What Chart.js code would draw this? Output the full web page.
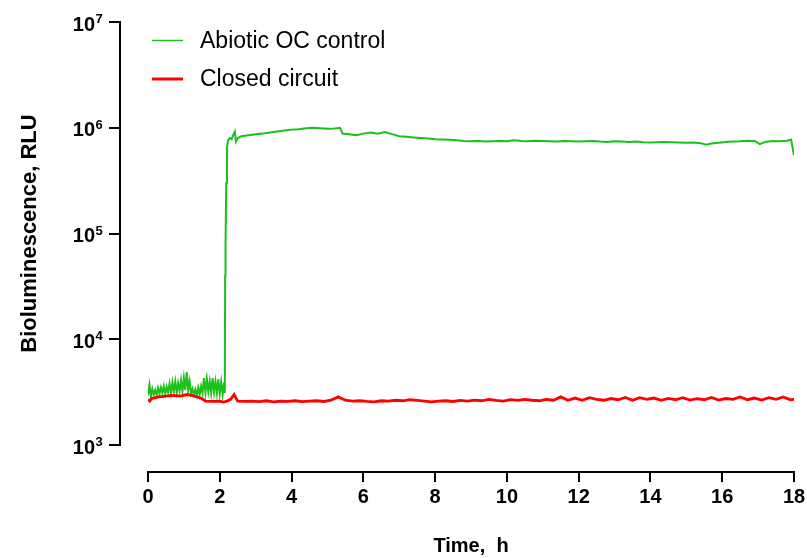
<!DOCTYPE html>
<html>
<head>
<meta charset="utf-8">
<title>Bioluminescence over time</title>
<script src="https://cdn.jsdelivr.net/npm/chart.js@4.4.1/dist/chart.umd.min.js"></script>
<style>
    html, body { margin: 0; padding: 0; background: #ffffff; }
    #bio-chart { display: block; }
</style>
</head>
<body>
<canvas id="bio-chart" width="807" height="558"></canvas>
<script>
/**
 * Bioluminescence time course (log scale)
 */

// Abiotic OC control - time (h)
var greenTimes = [
    0.00, 0.04, 0.08, 0.12, 0.16, 0.20, 0.24, 0.28, 0.32, 0.36,
    0.40, 0.44, 0.48, 0.52, 0.56, 0.60, 0.64, 0.68, 0.72, 0.76,
    0.80, 0.84, 0.88, 0.92, 0.96, 1.00, 1.04, 1.08, 1.12, 1.16,
    1.20, 1.24, 1.28, 1.32, 1.36, 1.40, 1.44, 1.48, 1.52, 1.56,
    1.60, 1.64, 1.68, 1.72, 1.76, 1.80, 1.84, 1.88, 1.92, 1.96,
    2.00, 2.04, 2.08, 2.12, 2.14, 2.15, 2.16, 2.18, 2.20, 2.23,
    2.28, 2.33, 2.38, 2.42, 2.45, 2.50, 2.60, 2.80, 3.00, 3.20,
    3.40, 3.60, 3.80, 4.00, 4.20, 4.40, 4.60, 4.80, 5.00, 5.20,
    5.35, 5.42, 5.60, 5.80, 6.00, 6.20, 6.40, 6.60, 6.80, 7.00,
    7.20, 7.40, 7.60, 7.80, 8.00, 8.20, 8.40, 8.60, 8.80, 9.00,
    9.20, 9.40, 9.60, 9.80, 10.0, 10.2, 10.4, 10.6, 10.8, 11.0,
    11.2, 11.4, 11.6, 11.8, 12.0, 12.2, 12.4, 12.6, 12.8, 13.0,
    13.2, 13.4, 13.6, 13.8, 14.0, 14.2, 14.4, 14.6, 14.8, 15.0,
    15.2, 15.4, 15.55, 15.7, 15.9, 16.1, 16.3, 16.5, 16.7, 16.9,
    17.05, 17.2, 17.4, 17.6, 17.8, 17.92, 18.0
];

// Abiotic OC control - RLU
var greenValues = [
    2950, 3700, 2900, 3400, 3000, 3300, 2950, 3450, 3050, 3500,
    3100, 3600, 3050, 3550, 3150, 3800, 3100, 3900, 3200, 4000,
    3150, 3850, 3250, 4100, 3200, 4300, 3300, 4900, 3300, 4000,
    3050, 3400, 3000, 3350, 2950, 3500, 3000, 3600, 3100, 4300,
    3150, 4200, 3200, 4000, 3100, 4300, 3150, 4000, 3100, 4200,
    3050, 3950, 3000, 3900, 3100, 40000, 75000, 300000, 650000, 760000,
    800000, 780000, 860000, 920000, 740000, 800000, 830000, 850000, 870000, 880000,
    900000, 920000, 940000, 960000, 970000, 990000, 1000000, 990000, 980000, 985000,
    1000000, 880000, 870000, 850000, 880000, 900000, 880000, 910000, 870000, 830000,
    820000, 810000, 800000, 790000, 780000, 775000, 770000, 760000, 750000, 745000,
    750000, 740000, 745000, 750000, 745000, 760000, 750000, 745000, 755000, 750000,
    745000, 740000, 750000, 745000, 740000, 745000, 750000, 740000, 735000, 745000,
    740000, 735000, 740000, 730000, 725000, 730000, 735000, 730000, 725000, 720000,
    725000, 715000, 690000, 710000, 720000, 735000, 740000, 745000, 755000, 750000,
    700000, 735000, 750000, 745000, 755000, 770000, 550000
];

// Closed circuit - time (h)
var redTimes = [
    0.00, 0.05, 0.10, 0.30, 0.50, 0.70, 0.90, 1.10, 1.30, 1.50,
    1.60, 1.80, 2.00, 2.10, 2.20, 2.30, 2.40, 2.50, 2.70, 2.90,
    3.10, 3.30, 3.50, 3.70, 3.90, 4.10, 4.30, 4.50, 4.70, 4.90,
    5.10, 5.30, 5.50, 5.70, 5.90, 6.10, 6.30, 6.50, 6.70, 6.90,
    7.10, 7.30, 7.50, 7.70, 7.90, 8.10, 8.30, 8.50, 8.70, 8.90,
    9.10, 9.30, 9.50, 9.70, 9.90, 10.1, 10.3, 10.5, 10.7, 10.9,
    11.1, 11.3, 11.5, 11.7, 11.9, 12.1, 12.3, 12.5, 12.7, 12.9,
    13.1, 13.3, 13.5, 13.7, 13.9, 14.1, 14.3, 14.5, 14.7, 14.9,
    15.1, 15.3, 15.5, 15.7, 15.9, 16.1, 16.3, 16.5, 16.7, 16.9,
    17.1, 17.3, 17.5, 17.7, 17.9, 18.0
];

// Closed circuit - RLU
var redValues = [
    2700, 2600, 2750, 2850, 2900, 2950, 2900, 3000, 2900, 2750,
    2600, 2580, 2600, 2550, 2600, 2700, 3000, 2600, 2580, 2600,
    2570, 2620, 2560, 2600, 2580, 2620, 2570, 2600, 2620, 2580,
    2650, 2850, 2650, 2600, 2620, 2580, 2560, 2620, 2600, 2650,
    2620, 2680, 2640, 2600, 2560, 2600, 2620, 2580, 2640, 2600,
    2660, 2620, 2700, 2640, 2600, 2680, 2640, 2700, 2650, 2620,
    2700, 2650, 2850, 2650, 2780, 2650, 2800, 2700, 2650, 2750,
    2680, 2820, 2650, 2800, 2700, 2780, 2650, 2760, 2680, 2800,
    2660, 2740, 2680, 2820, 2660, 2750, 2700, 2850, 2680, 2780,
    2660, 2800, 2700, 2850, 2680, 2700
];

var seriesLabels = ['Abiotic OC control', 'Closed circuit'];
var xTickValues = [0, 2, 4, 6, 8, 10, 12, 14, 16, 18];
var yTickExponents = [3, 4, 5, 6, 7];

(function() {
    'use strict';

    var BOLD_NARROW = '"Liberation Sans Narrow", "Arial Narrow", "Liberation Sans", Arial, sans-serif';
    var SANS = '"Liberation Sans", Arial, sans-serif';
    var GREEN = '#19c119';
    var RED = '#ff0000';

    function toPoints(times, values) {
        return times.map(function(t, i) {
            return { x: t, y: values[i] };
        });
    }

    // Offset axes, superscript tick labels and the legend
    var decorPlugin = {
        id: 'decor',
        afterDraw: function(chart) {
            var ctx = chart.ctx;
            var xs = chart.scales.x;
            var ys = chart.scales.y;
            var axisX = 120;
            var axisY = 472;

            ctx.save();
            ctx.strokeStyle = '#000000';
            ctx.fillStyle = '#000000';
            ctx.lineWidth = 2;
            ctx.lineCap = 'square';

            // y axis
            var yTop = ys.getPixelForValue(Math.pow(10, yTickExponents[yTickExponents.length - 1]));
            var yBottom = ys.getPixelForValue(Math.pow(10, yTickExponents[0]));
            ctx.beginPath();
            ctx.moveTo(axisX, yTop);
            ctx.lineTo(axisX, yBottom);
            yTickExponents.forEach(function(e) {
                var py = Math.round(ys.getPixelForValue(Math.pow(10, e)));
                ctx.moveTo(axisX - 10, py);
                ctx.lineTo(axisX, py);
            });
            ctx.stroke();

            yTickExponents.forEach(function(e) {
                var py = ys.getPixelForValue(Math.pow(10, e));
                ctx.textAlign = 'right';
                ctx.textBaseline = 'alphabetic';
                ctx.font = 'bold 20px ' + BOLD_NARROW;
                ctx.fillText('10', 95, py + 8.5);
                ctx.textAlign = 'left';
                ctx.font = 'bold 13px ' + SANS;
                ctx.fillText(String(e), 95.5, py + 1);
            });

            // x axis
            var xLeft = xs.getPixelForValue(xTickValues[0]);
            var xRight = xs.getPixelForValue(xTickValues[xTickValues.length - 1]);
            ctx.beginPath();
            ctx.moveTo(xLeft, axisY);
            ctx.lineTo(xRight, axisY);
            xTickValues.forEach(function(v) {
                var px = Math.round(xs.getPixelForValue(v));
                ctx.moveTo(px, axisY);
                ctx.lineTo(px, axisY + 9);
            });
            ctx.stroke();

            ctx.font = 'bold 20px ' + BOLD_NARROW;
            ctx.textAlign = 'center';
            ctx.textBaseline = 'alphabetic';
            xTickValues.forEach(function(v) {
                ctx.fillText(String(v), xs.getPixelForValue(v), 503);
            });

            // legend
            var rows = [
                { label: seriesLabels[0], color: GREEN, width: 1.5, y: 40.5 },
                { label: seriesLabels[1], color: RED, width: 3, y: 79 }
            ];
            ctx.lineCap = 'butt';
            ctx.font = '23px ' + SANS;
            ctx.textAlign = 'left';
            ctx.textBaseline = 'middle';
            rows.forEach(function(row) {
                ctx.strokeStyle = row.color;
                ctx.lineWidth = row.width;
                ctx.beginPath();
                ctx.moveTo(152, row.y);
                ctx.lineTo(183, row.y);
                ctx.stroke();
                ctx.fillStyle = '#000000';
                ctx.fillText(row.label, 200, row.y + 1);
            });

            ctx.restore();
        }
    };

    var canvas = document.getElementById('bio-chart');

    new Chart(canvas.getContext('2d'), {
        type: 'line',
        data: {
            datasets: [
                {
                    label: seriesLabels[0],
                    data: toPoints(greenTimes, greenValues),
                    borderColor: GREEN,
                    borderWidth: 2,
                    pointRadius: 0,
                    tension: 0,
                    order: 2
                },
                {
                    label: seriesLabels[1],
                    data: toPoints(redTimes, redValues),
                    borderColor: RED,
                    borderWidth: 2.8,
                    pointRadius: 0,
                    tension: 0,
                    order: 1
                }
            ]
        },
        options: {
            responsive: false,
            animation: false,
            devicePixelRatio: 1,
            layout: {
                padding: { top: 22, right: 13, left: 0, bottom: 0 }
            },
            plugins: {
                legend: { display: false },
                tooltip: { enabled: false }
            },
            scales: {
                x: {
                    type: 'linear',
                    min: 0,
                    max: 18,
                    grid: { display: false },
                    border: { display: false },
                    ticks: { display: false },
                    title: {
                        display: true,
                        text: 'Time,  h',
                        color: '#000000',
                        font: { family: SANS, size: 20, weight: 'bold' },
                        padding: { top: 0, bottom: 0 }
                    },
                    afterFit: function(scale) {
                        scale.height = 113;
                    }
                },
                y: {
                    type: 'logarithmic',
                    min: 1000,
                    max: 10000000,
                    grid: { display: false },
                    border: { display: false },
                    ticks: { display: false },
                    title: {
                        display: true,
                        text: 'Bioluminescence, RLU',
                        color: '#000000',
                        font: { family: SANS, size: 22, weight: 'bold' },
                        padding: { top: 17, bottom: 0 }
                    },
                    afterFit: function(scale) {
                        scale.width = 148;
                    }
                }
            }
        },
        plugins: [decorPlugin]
    });
})();
</script>
</body>
</html>
